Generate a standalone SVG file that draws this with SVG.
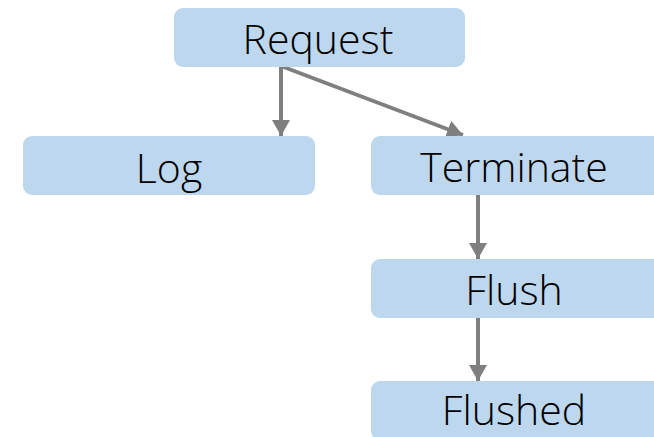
<svg xmlns="http://www.w3.org/2000/svg" width="654" height="437" viewBox="0 0 654 437">
  <defs>
    <style>
      .box { fill: #BDD7EE; }
      .label { font-family: "Open Sans", "Liberation Sans", sans-serif; font-weight: 300; font-size: 41px; fill: #000000; text-anchor: middle; }
      .edge { stroke: #7F7F7F; stroke-width: 4; fill: none; }
    </style>
    <marker id="arrow" markerUnits="userSpaceOnUse" markerWidth="18" markerHeight="18" refX="16" refY="9" orient="auto">
      <path d="M0,0 L16,9 L0,18 Z" fill="#7F7F7F"/>
    </marker>
  </defs>
  <rect width="654" height="437" fill="#FFFFFF"/>

  <g id="connectors">
    <line class="edge" x1="281" y1="66" x2="281" y2="136" marker-end="url(#arrow)"/>
    <line class="edge" x1="281" y1="66" x2="463" y2="135" marker-end="url(#arrow)"/>
    <line class="edge" x1="478" y1="194" x2="478" y2="259" marker-end="url(#arrow)"/>
    <line class="edge" x1="478" y1="317" x2="478" y2="381" marker-end="url(#arrow)"/>
  </g>

  <g id="node-request">
    <rect class="box" x="174" y="8" width="291" height="59" rx="9"/>
    <text class="label" x="318" y="54">Request</text>
  </g>
  <g id="node-log">
    <rect class="box" x="23" y="136" width="292" height="59" rx="9"/>
    <text class="label" x="169" y="183">Log</text>
  </g>
  <g id="node-terminate">
    <rect class="box" x="371" y="136" width="291" height="59" rx="9"/>
    <text class="label" x="514" y="182">Terminate</text>
  </g>
  <g id="node-flush">
    <rect class="box" x="371" y="259" width="291" height="59" rx="9"/>
    <text class="label" x="514" y="305">Flush</text>
  </g>
  <g id="node-flushed">
    <rect class="box" x="371" y="381" width="291" height="59" rx="9"/>
    <text class="label" x="514" y="425">Flushed</text>
  </g>
</svg>
